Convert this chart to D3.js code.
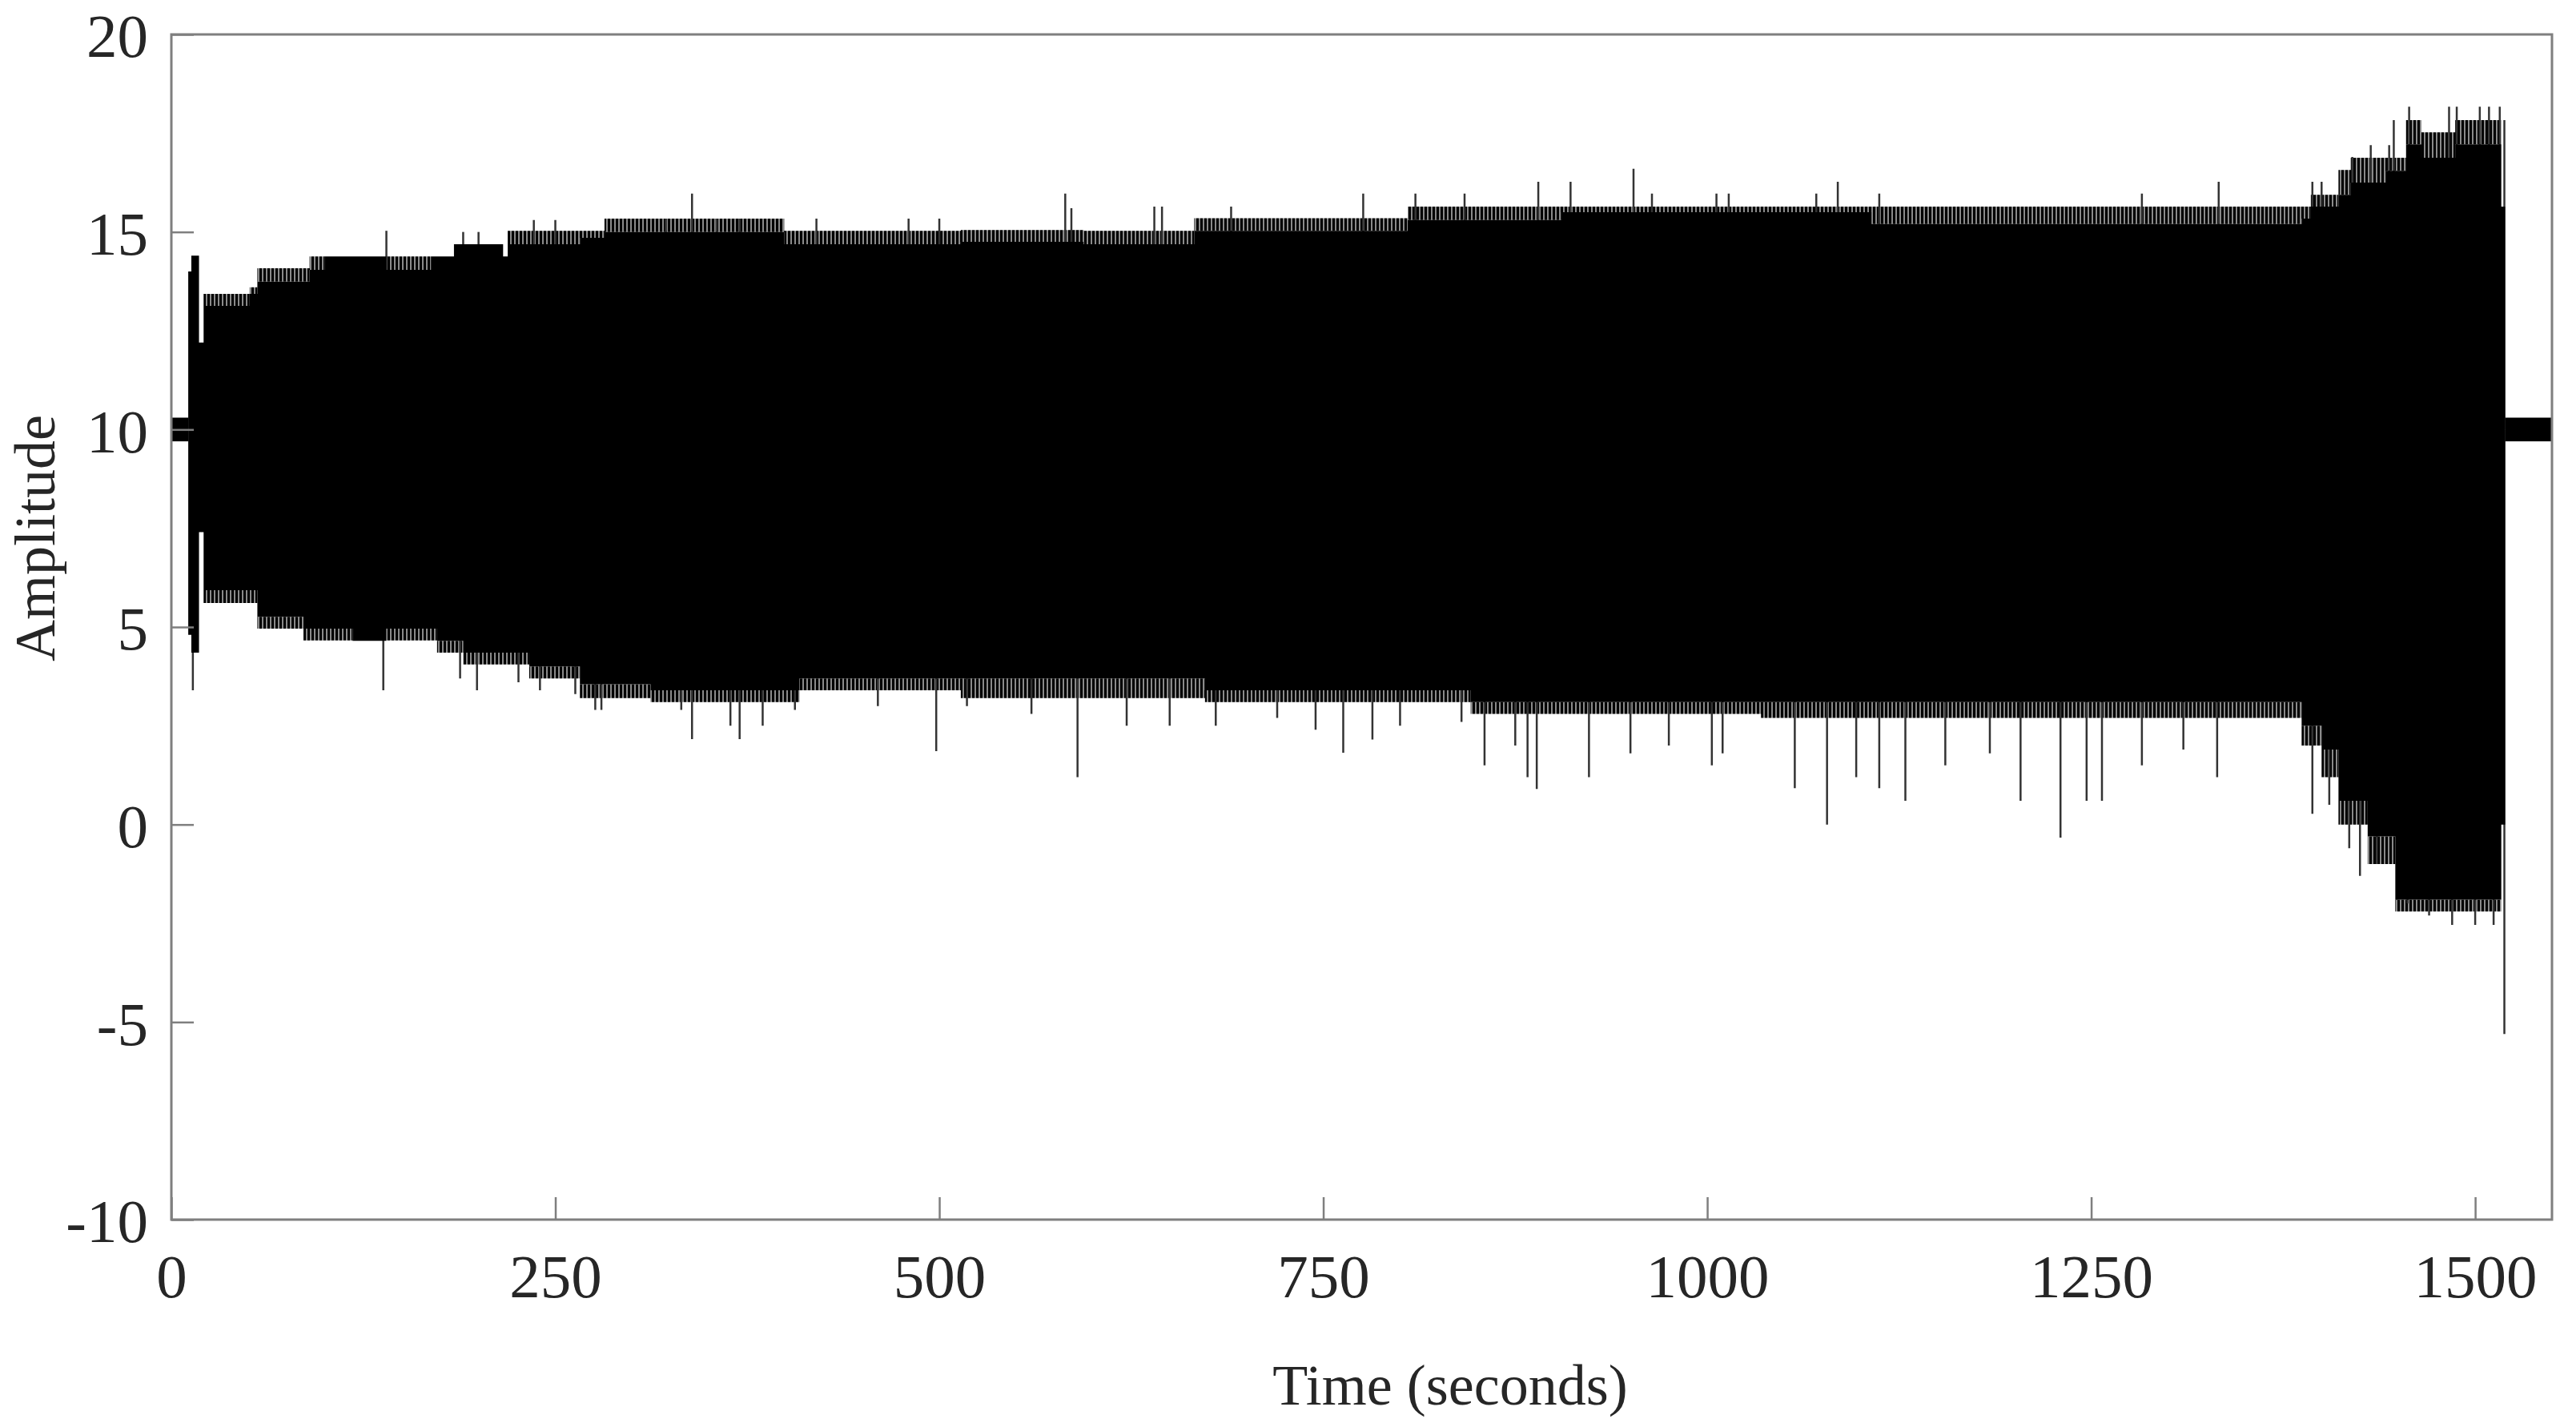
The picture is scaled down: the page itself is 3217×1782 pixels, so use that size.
<!DOCTYPE html>
<html>
<head>
<meta charset="utf-8">
<script src="https://cdnjs.cloudflare.com/ajax/libs/d3/7.8.5/d3.min.js"></script>
<style>
  html, body { margin: 0; padding: 0; background: #ffffff; }
  svg { display: block; }
</style>
</head>
<body>
<svg id="chart" width="3217" height="1782"></svg>
<script>
// ---------------- data ----------------
const xTicks = [0, 250, 500, 750, 1000, 1250, 1500];
const yTicks = [-10, -5, 0, 5, 10, 15, 20];
const xTickLabels = ["0", "250", "500", "750", "1000", "1250", "1500"];
const yTickLabels = ["-10", "-5", "0", "5", "10", "15", "20"];
const xTitle = "Time (seconds)";
const yTitle = "Amplitude";

// step segments of the oscillation envelope (value holds from t[i] to t[i+1])
const envT      = [11, 13, 18, 21, 51, 56, 86, 90, 100, 118, 140, 169, 173, 184, 190, 216, 219, 233, 266, 282, 312, 399, 409, 514, 594, 666, 673, 805, 846, 905, 1035, 1107, 1387, 1393, 1400, 1411, 1419, 1430, 1442, 1448, 1455, 1465, 1487, 1517, 1519.5];
// solid core, upper edge
const coreHigh  = [14.0, 14.4, 12.2, 13.13, 13.43, 13.74, 13.74, 14.04, 14.38, 14.38, 14.04, 14.38, 14.38, 14.69, 14.69, 14.38, 14.69, 14.69, 14.85, 15.0, 15.0, 14.69, 14.69, 14.75, 14.69, 15.03, 15.03, 15.3, 15.3, 15.5, 15.5, 15.2, 15.34, 15.64, 15.64, 15.94, 16.25, 16.25, 16.55, 16.55, 17.22, 16.88, 17.22, 15.64, 15.64];
// ragged outer edge of the dense lines, upper
const fringeHigh= [14.0, 14.4, 12.2, 13.43, 13.6, 14.08, 14.08, 14.38, 14.38, 14.38, 14.38, 14.38, 14.38, 14.69, 14.69, 14.38, 15.03, 15.03, 15.03, 15.34, 15.34, 15.03, 15.03, 15.05, 15.03, 15.35, 15.35, 15.64, 15.64, 15.64, 15.64, 15.64, 15.64, 15.94, 15.94, 16.57, 16.88, 16.88, 16.88, 16.88, 17.83, 17.52, 17.83, 15.64, 15.64];
// solid core, lower edge
const coreLow   = [4.8, 4.35, 7.4, 5.93, 5.93, 5.26, 4.96, 4.96, 4.96, 4.65, 4.96, 4.96, 4.65, 4.65, 4.35, 4.35, 4.35, 4.0, 3.55, 3.55, 3.4, 3.4, 3.7, 3.7, 3.7, 3.7, 3.4, 3.4, 3.1, 3.1, 3.1, 3.1, 2.5, 2.5, 1.9, 0.6, 0.6, -0.3, -0.3, -1.9, -1.9, -1.9, -1.9, 0.0, 0.0];
// ragged outer edge of the dense lines, lower
const fringeLow = [4.8, 4.35, 7.4, 5.61, 5.61, 4.96, 4.66, 4.66, 4.66, 4.65, 4.66, 4.66, 4.35, 4.35, 4.05, 4.05, 4.05, 3.7, 3.2, 3.2, 3.1, 3.1, 3.4, 3.2, 3.2, 3.2, 3.1, 3.1, 2.8, 2.8, 2.7, 2.7, 2.0, 2.0, 1.2, 0.0, 0.0, -1.0, -1.0, -2.2, -2.2, -2.2, -2.2, 0.0, 0.0];

// isolated tall peaks above the envelope
const peakT = [12, 16, 140, 190, 200, 236, 250, 322, 339, 355, 370, 420, 480, 500, 582, 586, 640, 645, 690, 776, 810, 842, 890, 911, 952, 964, 1006, 1014, 1071, 1085, 1112, 1283, 1333, 1394, 1400, 1420, 1432, 1444, 1447, 1457, 1483, 1488, 1503, 1509, 1516, 1519];
const peakV = [14.0, 14.38, 15.03, 15.0, 15.0, 15.3, 15.3, 15.34, 15.97, 15.34, 15.34, 15.34, 15.34, 15.34, 15.97, 15.6, 15.64, 15.64, 15.64, 15.97, 15.97, 15.97, 16.27, 16.27, 16.6, 15.97, 15.97, 15.97, 15.97, 16.27, 15.97, 15.97, 16.27, 16.27, 16.27, 16.9, 17.2, 17.2, 17.83, 18.17, 18.17, 18.17, 18.17, 18.17, 18.17, 17.83];

// isolated deep troughs below the envelope
const dipT = [14, 138, 188, 199, 226, 240, 263, 276, 280, 332, 339, 364, 370, 385, 406, 460, 498, 518, 560, 590, 622, 650, 680, 720, 745, 763, 782, 800, 840, 855, 875, 883, 889, 923, 950, 975, 1003, 1010, 1057, 1078, 1097, 1112, 1129, 1155, 1184, 1204, 1230, 1247, 1257, 1283, 1310, 1332, 1394, 1405, 1418, 1425, 1436, 1449, 1456, 1470, 1485, 1500, 1512, 1519];
const dipV = [3.4, 3.4, 3.7, 3.4, 3.6, 3.4, 3.3, 2.9, 2.9, 2.9, 2.16, 2.5, 2.16, 2.5, 2.9, 3.0, 1.86, 3.0, 2.8, 1.2, 2.5, 2.5, 2.5, 2.7, 2.4, 1.82, 2.15, 2.5, 2.6, 1.5, 2.0, 1.2, 0.9, 1.2, 1.8, 2.0, 1.5, 1.8, 0.92, 0.0, 1.2, 0.92, 0.6, 1.5, 1.8, 0.6, -0.33, 0.6, 0.6, 1.5, 1.9, 1.2, 0.27, 0.5, -0.6, -1.3, -1.0, -1.9, -2.0, -2.3, -2.54, -2.54, -2.54, -5.3];

// quiet (resting) parts of the record: tiny oscillation around 10
const restStart = [0, 1519.5];
const restEnd   = [11, 1550];
const restHigh  = [10.3, 10.3];
const restLow   = [9.7, 9.7];

// ---------------- layout ----------------
const W = 3217, H = 1782;
const margin = { left: 214, top: 43, right: 3217 - 3187, bottom: 1782 - 1523 };
const iw = W - margin.left - margin.right;
const ih = H - margin.top - margin.bottom;
const FONT = "'Liberation Serif', 'Times New Roman', Times, serif";
const TEXT = "#262626";
const FRAME = "#7f7f7f";

const svg = d3.select("#chart");
const x = d3.scaleLinear().domain([0, 1550]).range([0, iw]);
const y = d3.scaleLinear().domain([-10, 20]).range([ih, 0]);

const defs = svg.append("defs");
const pat = defs.append("pattern")
  .attr("id", "fringe").attr("patternUnits", "userSpaceOnUse")
  .attr("width", 5).attr("height", 10);
pat.append("rect").attr("x", 0).attr("y", 0).attr("width", 3).attr("height", 10).attr("fill", "#000");
pat.append("rect").attr("x", 3).attr("y", 0).attr("width", 2).attr("height", 10).attr("fill", "#8a8a8a");

defs.append("clipPath").attr("id", "clip")
  .append("rect").attr("width", iw).attr("height", ih);

const g = svg.append("g").attr("transform", `translate(${margin.left},${margin.top})`);
const plot = g.append("g").attr("clip-path", "url(#clip)");

const env = envT.map((t, i) => ({ t, ch: coreHigh[i], fh: fringeHigh[i], cl: coreLow[i], fl: fringeLow[i] }));

// fringe (ragged lines) bands
const upperFringe = d3.area().curve(d3.curveStepAfter)
  .x(d => x(d.t)).y0(d => y(d.ch)).y1(d => y(d.fh));
const lowerFringe = d3.area().curve(d3.curveStepAfter)
  .x(d => x(d.t)).y0(d => y(d.cl)).y1(d => y(d.fl));
plot.append("path").datum(env).attr("d", upperFringe).attr("fill", "url(#fringe)");
plot.append("path").datum(env).attr("d", lowerFringe).attr("fill", "url(#fringe)");

// isolated peaks and troughs (thin lines)
plot.selectAll("line.peak").data(peakT.map((t, i) => ({ t, v: peakV[i] }))).enter()
  .append("line").attr("class", "peak")
  .attr("x1", d => x(d.t)).attr("x2", d => x(d.t))
  .attr("y1", y(10)).attr("y2", d => y(d.v))
  .attr("stroke", "#333").attr("stroke-width", 2.5);
plot.selectAll("line.dip").data(dipT.map((t, i) => ({ t, v: dipV[i] }))).enter()
  .append("line").attr("class", "dip")
  .attr("x1", d => x(d.t)).attr("x2", d => x(d.t))
  .attr("y1", y(10)).attr("y2", d => y(d.v))
  .attr("stroke", "#333").attr("stroke-width", 2.5);

// solid core of the oscillation
const core = d3.area().curve(d3.curveStepAfter)
  .x(d => x(d.t)).y0(d => y(d.cl)).y1(d => y(d.ch));
plot.append("path").datum(env).attr("d", core).attr("fill", "#000");

// resting parts
plot.selectAll("rect.rest").data(restStart.map((s, i) => ({ s, e: restEnd[i], hi: restHigh[i], lo: restLow[i] }))).enter()
  .append("rect").attr("class", "rest")
  .attr("x", d => x(d.s)).attr("width", d => x(d.e) - x(d.s))
  .attr("y", d => y(d.hi)).attr("height", d => y(d.lo) - y(d.hi))
  .attr("fill", "#000");

// ---------------- axes ----------------
const xAxis = d3.axisBottom(x).tickValues(xTicks)
  .tickFormat((d, i) => xTickLabels[i]).tickSizeInner(-28).tickSizeOuter(0).tickPadding(42);
const yAxis = d3.axisLeft(y).tickValues(yTicks)
  .tickFormat((d, i) => yTickLabels[i]).tickSizeInner(-28).tickSizeOuter(0).tickPadding(29);

const gx = g.append("g").attr("transform", `translate(0,${ih})`).call(xAxis);
const gy = g.append("g").call(yAxis);
[gx, gy].forEach(a => {
  a.select(".domain").remove();
  a.selectAll(".tick line").attr("stroke", FRAME).attr("stroke-width", 2.5);
  a.selectAll(".tick text").attr("fill", TEXT).style("font-family", FONT).style("font-size", "77px");
});
gy.selectAll(".tick text").attr("dy", "0.36em");

// frame
g.append("rect").attr("x", 0).attr("y", 0).attr("width", iw).attr("height", ih)
  .attr("fill", "none").attr("stroke", FRAME).attr("stroke-width", 3);

// titles
svg.append("text").text(xTitle)
  .attr("x", 1811).attr("y", 1754).attr("text-anchor", "middle")
  .attr("fill", TEXT).style("font-family", FONT).style("font-size", "72px");
svg.append("text").text(yTitle)
  .attr("transform", "translate(68,672) rotate(-90)").attr("text-anchor", "middle")
  .attr("fill", TEXT).style("font-family", FONT).style("font-size", "72px");
</script>
</body>
</html>
